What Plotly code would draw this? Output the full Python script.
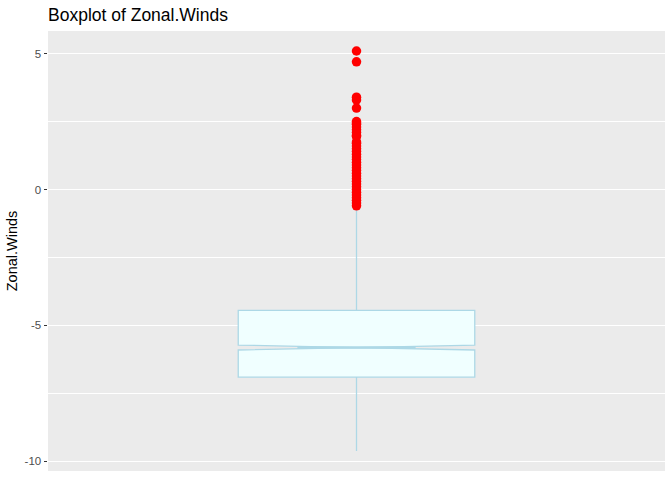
import plotly.graph_objects as go

# Summary statistics for Zonal.Winds
q1 = -6.91
median = -5.82
q3 = -4.45
lower_whisker = -9.63
upper_whisker = -0.75
notch_span = 0.09

# Outliers (values above the upper fence)
outliers = [5.1, 4.7, 3.4, 3.3, 3.0, 2.5, 2.45, 2.4, 2.3, 2.2, 2.1, 2.0, 1.95,
            1.75, 1.7, 1.6, 1.5, 1.4, 1.3, 1.2, 1.1, 1.0, 0.9, 0.8, 0.7, 0.6,
            0.5, 0.4, 0.3, 0.2, 0.1, 0.0, -0.1, -0.2, -0.3, -0.4, -0.5, -0.6]

ytick_vals = [-10, -5, 0, 5]
ytick_text = ["-10", "-5", "0", "5"]

ymin = min([lower_whisker] + outliers)
ymax = max([upper_whisker] + outliers)
pad = (ymax - ymin) * 0.05

box_width = 0.46
notch_frac = 0.5

fig = go.Figure()
fig.add_trace(go.Box(
    x=[0], q1=[q1], median=[median], q3=[q3],
    lowerfence=[lower_whisker], upperfence=[upper_whisker],
    notchspan=[notch_span], notched=True, notchwidth=notch_frac,
    width=box_width, whiskerwidth=0,
    fillcolor="#F0FFFF", line=dict(color="#ADD8E6", width=1.3),
    boxpoints=False, showlegend=False, hoverinfo="skip",
))
# thicker median segment across the notch (ggplot fatten)
half = box_width * (1 - notch_frac) / 2
fig.add_trace(go.Scatter(
    x=[-half, half], y=[median, median], mode="lines",
    line=dict(color="#ADD8E6", width=2.6), showlegend=False, hoverinfo="skip",
))
fig.add_trace(go.Scatter(
    x=[0] * len(outliers), y=outliers, mode="markers",
    marker=dict(color="#FF0000", size=9.5, line=dict(width=0)),
    showlegend=False,
))

fig.update_layout(
    width=672, height=480,
    margin=dict(l=48, r=7, t=31, b=9),
    paper_bgcolor="white", plot_bgcolor="#EBEBEB",
    font=dict(family="Liberation Sans, Arial, sans-serif"),
    title=dict(text="Boxplot of Zonal.Winds", x=48/672, xanchor="left",
               y=1 - 15/480, yanchor="middle",
               font=dict(size=17.5, color="black")),
    xaxis=dict(range=[-0.6, 0.6], showgrid=False, showticklabels=False,
               ticks="", zeroline=False, showline=False),
    yaxis=dict(range=[ymin - pad, ymax + pad], tickvals=ytick_vals,
               ticktext=ytick_text, ticks="outside", ticklen=3.5,
               tickcolor="#333333", tickwidth=1,
               tickfont=dict(size=11.5, color="#4D4D4D"),
               showgrid=True, gridcolor="white", gridwidth=1.1,
               zeroline=False, showline=False,
               minor=dict(tickvals=[-7.5, -2.5, 2.5], showgrid=True,
                          gridcolor="white", gridwidth=0.5, ticks=""),
               title=dict(text="Zonal.Winds", standoff=3,
                          font=dict(size=14.5, color="black"))),
)

fig.write_html("out.html")
